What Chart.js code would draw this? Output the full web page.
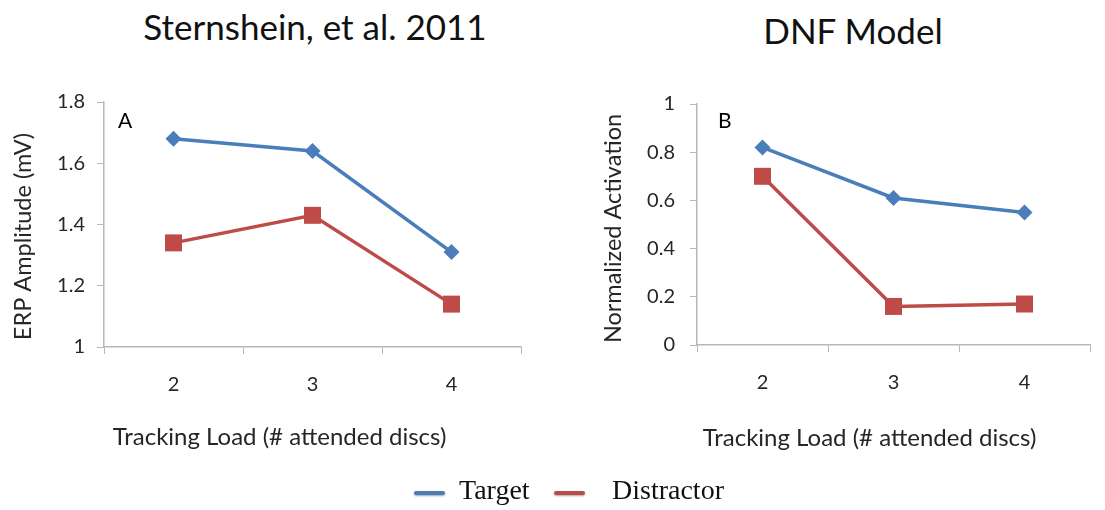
<!DOCTYPE html>
<html>
<head>
<meta charset="utf-8">
<script src="https://cdn.jsdelivr.net/npm/chart.js@4.4.0/dist/chart.umd.min.js"></script>
<style>
  html, body { margin: 0; padding: 0; background: #ffffff; }
  #wrap { position: relative; width: 1105px; height: 510px; overflow: hidden; }
  #c1 { position: absolute; left: 0; top: 0; }
  #c2 { position: absolute; left: 552px; top: 0; }
  .title { position: absolute; font-family: Lato, "Open Sans", sans-serif; font-size: 35px; color: #111; white-space: nowrap; transform: translateX(-50%); }
  #legend { position: absolute; top: 474px; left: 0; width: 1105px; height: 36px; font-family: "Liberation Serif", "DejaVu Serif", serif; font-size: 28px; color: #111; }
  .lg { position: absolute; top: 0; white-space: nowrap; }
  .sw { position: absolute; height: 4px; width: 31px; top: 17px; border-radius: 2px; box-shadow: 0 1px 2px rgba(0,0,0,0.35); }
</style>
</head>
<body>
<div id="wrap">
  <div class="title" id="t1" style="left:315px; top:5px;"></div>
  <div class="title" id="t2" style="left:853px; top:9px;"></div>
  <canvas id="c1" width="552" height="510"></canvas>
  <canvas id="c2" width="553" height="510"></canvas>
  <div id="legend"></div>
</div>
<script>
// ---- data ----
const categories = ['2', '3', '4'];
const seriesNames = ['Target', 'Distractor'];
const erpTarget = [1.68, 1.64, 1.31];
const erpDistractor = [1.34, 1.43, 1.14];
const dnfTarget = [0.82, 0.61, 0.55];
const dnfDistractor = [0.70, 0.16, 0.17];
const erpTicks = [1, 1.2, 1.4, 1.6, 1.8];
const dnfTicks = [0, 0.2, 0.4, 0.6, 0.8, 1];
const titles = ['Sternshein, et al. 2011', 'DNF Model'];
const panelLabels = ['A', 'B'];
const yTitles = ['ERP Amplitude (mV)', 'Normalized Activation'];
const xTitle = 'Tracking Load (# attended discs)';

const BLUE = '#4a7ebb';
const RED = '#be4b48';
const AXIS = '#b8b8b8';
const TXT = '#262626';
const FONT = 'Lato, "Open Sans", sans-serif';

document.getElementById('t1').textContent = titles[0];
document.getElementById('t2').textContent = titles[1];

const legend = document.getElementById('legend');
legend.innerHTML =
  '<div class="sw" style="left:414px;background:' + BLUE + '"></div>' +
  '<div class="lg" style="left:459px">' + seriesNames[0] + '</div>' +
  '<div class="sw" style="left:554px;background:' + RED + '"></div>' +
  '<div class="lg" style="left:612px">' + seriesNames[1] + '</div>';

// panel letter + axis titles placed relative to the chart area
const annotPlugin = {
  id: 'annot',
  afterDraw(chart, args, o) {
    const {ctx, chartArea: a} = chart;
    ctx.save();
    ctx.fillStyle = '#000';
    ctx.textBaseline = 'middle';
    ctx.font = '21px ' + FONT;
    ctx.textAlign = 'left';
    ctx.fillText(o.label, a.left + o.ldx, a.top + o.ldy);
    ctx.fillStyle = TXT;
    ctx.textAlign = 'center';
    ctx.font = '24px ' + FONT;
    ctx.fillText(o.xTitle, (a.left + a.right) / 2 + o.xdx, o.xy);
    ctx.font = '23.5px ' + FONT;
    ctx.translate(o.yx, (a.top + a.bottom) / 2 + o.ydy);
    ctx.rotate(-Math.PI / 2);
    ctx.fillText(o.yTitle, 0, 0);
    ctx.restore();
  }
};

function makeChart(id, tData, dData, ticks, yMin, yMax, cfg) {
  return new Chart(document.getElementById(id), {
    type: 'line',
    data: {
      labels: categories,
      datasets: [
        { label: seriesNames[0], data: tData, borderColor: BLUE, backgroundColor: BLUE,
          borderWidth: 3.5, pointStyle: 'rectRot', pointRadius: 8, pointBorderWidth: 0, tension: 0 },
        { label: seriesNames[1], data: dData, borderColor: RED, backgroundColor: RED,
          borderWidth: 3.5, pointStyle: 'rect', pointRadius: 12, pointBorderWidth: 0, tension: 0 }
      ]
    },
    plugins: [annotPlugin],
    options: {
      responsive: false,
      animation: false,
      events: [],
      layout: { padding: cfg.padding },
      plugins: {
        legend: { display: false },
        tooltip: { enabled: false },
        title: { display: false },
        annot: cfg.annot
      },
      scales: {
        x: {
          type: 'category',
          offset: true,
          grid: { offset: true, drawOnChartArea: false, color: AXIS, tickLength: 7, tickColor: AXIS },
          border: { color: AXIS, width: 1.5 },
          ticks: { color: TXT, font: { family: FONT, size: 20 }, padding: 19, maxRotation: 0 },
          afterFit(s) { s.height = cfg.xHeight; }
        },
        y: {
          type: 'linear',
          min: yMin, max: yMax,
          afterBuildTicks(s) { s.ticks = ticks.map(v => ({ value: v })); },
          grid: { drawOnChartArea: false, color: AXIS, tickLength: 7, tickColor: AXIS },
          border: { color: AXIS, width: 1.5 },
          ticks: { color: TXT, font: { family: FONT, size: 20 }, padding: cfg.tickPad,
                   callback: v => String(v) },
          afterFit(s) { s.width = cfg.yWidth; }
        }
      }
    }
  });
}

makeChart('c1', erpTarget, erpDistractor, erpTicks, 1, 1.8, {
  padding: { top: 102, left: 0, right: 31, bottom: 55 }, xHeight: 108, yWidth: 104, tickPad: 12,
  annot: { label: panelLabels[0], ldx: 14, ldy: 19, xTitle: xTitle, yTitle: yTitles[0], xdx: -33, xy: 437, yx: 23, ydy: 12 }
});
makeChart('c2', dnfTarget, dnfDistractor, dnfTicks, 0, 1, {
  padding: { top: 104, left: 40, right: 15, bottom: 54 }, xHeight: 111, yWidth: 105, tickPad: 15,
  annot: { label: panelLabels[1], ldx: 21, ldy: 17, xTitle: xTitle, yTitle: yTitles[1], xdx: -24, xy: 438, yx: 61, ydy: 4 }
});
</script>
</body>
</html>
